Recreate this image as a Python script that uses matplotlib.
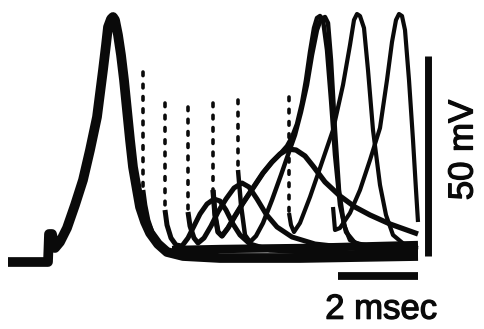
import numpy as np
import matplotlib
matplotlib.use("Agg")
import matplotlib.pyplot as plt
import matplotlib.patheffects as pe

plt.rcParams['font.family'] = ['Liberation Sans', 'DejaVu Sans']

# ---- data (time in ms, potential in mV) ----
main_t = [0.2, 1.2, 1.225, 1.3, 1.375, 1.5, 1.675, 1.875, 2.075, 2.25, 2.425, 2.575, 2.65, 2.7,
          2.775, 2.825, 2.875, 2.95, 3.025, 3.1, 3.175, 3.25, 3.325, 3.425, 3.5, 3.625, 3.75,
          3.95, 4.175, 4.575, 5.5, 7.5, 10.45]
main_v = [-0.5, -0.5, 6.5, 6.5, 3, 4.5, 8, 13.75, 20, 27.5, 35.75, 47.5, 53.75, 58.25,
          60.25, 60.75, 60, 56.25, 51.25, 45, 37.5, 30, 23.25, 17.5, 13.25, 9.5, 6.75,
          4, 2.0, 1.0, 0.5, 0.5, 1.0]

# superimposed resting sweeps forming the thick baseline band
band_t = [4.3, 5.5, 7.5, 8.5, 10.45]
band_v = [2.5, 2.75, 3.0, 3.25, 3.75]

r1_t = [3.575, 3.625, 3.7, 3.8, 3.95, 4.125, 4.375, 4.75]
r1_v = [17.5, 13.75, 10, 7, 4.5, 2.75, 1.75, 1.25]

humpA_t = [4.125, 4.175, 4.275, 4.4, 4.55, 4.7, 4.85, 5.0, 5.175, 5.35, 5.5, 5.65, 5.825,
           6.0, 6.25, 6.75, 8.0, 10.45]
humpA_v = [12.5, 8.75, 5.5, 3.75, 3.5, 5.5, 8.5, 11.5, 14, 15.25, 14.75, 12.5, 9,
           6.25, 4, 2.5, 1.75, 1.75]

humpB_t = [4.7, 4.75, 4.85, 4.95, 5.1, 5.275, 5.45, 5.65, 5.85, 6.05, 6.225, 6.425, 6.65,
           6.925, 7.3, 7.875, 9.0, 10.45]
humpB_v = [12, 8.5, 5.5, 4.25, 5.5, 8.5, 12, 15.25, 18, 19.25, 18.25, 15.25, 11.5,
           8.25, 5.75, 4, 2.75, 2.5]

humpC_t = [5.325, 5.375, 5.45, 5.55, 5.7, 5.875, 6.075, 6.325, 6.575, 6.8, 7.0, 7.2, 7.4,
           7.625, 7.825, 8.125, 8.5, 8.875, 9.25, 9.75, 10.45]
humpC_v = [17.5, 11.25, 7, 6, 8, 11, 14.25, 18, 21.75, 24.5, 26.5, 27.75, 27.5,
           26, 23.5, 19.5, 16, 13.25, 11.25, 9, 6.5]

ap1_tail_t = [7.175, 7.3, 7.425, 7.55, 7.65, 7.75, 7.85, 7.925, 8.0, 8.075, 8.175, 8.275,
              8.375, 8.5, 8.65, 8.875, 9.5, 10.45]
ap1_tail_v = [28.5, 30.75, 34, 39.25, 45, 52, 58, 60.5, 61, 60, 52.5, 40,
              26.25, 13.75, 7, 4.25, 3, 2.5]

ap2_t = [5.95, 6.025, 6.125, 6.25, 6.4, 6.575, 6.8, 7.025, 7.225, 7.375, 7.525, 7.675, 7.8,
         7.925, 8.025, 8.125, 8.2, 8.275, 8.375, 8.475, 8.6, 8.75, 9.125, 10.45]
ap2_v = [22.5, 13.75, 6.25, 4.5, 6, 9.25, 15, 21.25, 27, 31.25, 37, 43.75, 51.25,
         57.5, 60.25, 60.75, 59.25, 50, 32.5, 17.5, 8.75, 5, 3.25, 2.5]

ap3_t = [7.225, 7.275, 7.35, 7.5, 7.75, 8.0, 8.325, 8.575, 8.75, 8.85, 8.925, 9.0, 9.1,
         9.2, 9.325, 9.5, 9.65, 9.825, 10.125, 10.45]
ap3_v = [11.75, 8.75, 7, 9.25, 15.75, 23, 32.5, 43.75, 53.75, 60, 61.5, 61, 58,
         47.5, 32.5, 18.75, 11.25, 6.25, 3.75, 3]

ap4_t = [8.325, 8.375, 8.5, 8.75, 9.0, 9.25, 9.5, 9.675, 9.8, 9.9, 9.975, 10.05, 10.125,
         10.225, 10.325, 10.4, 10.45]
ap4_v = [13.25, 7.5, 8, 11.75, 17.5, 25, 33, 45, 54.5, 60, 61.5, 61, 57.5,
         45, 30, 17.5, 9.5]

# stimulus artifacts (time, top, bottom)
stim_t = [3.575, 4.125, 4.7, 5.325, 5.95, 7.225]
stim_top = [47, 39.25, 38.25, 39.25, 40, 40.75]
stim_bot = [17.5, 12.5, 12, 17.5, 22.5, 11.75]

# scale bars
time_bar_start, time_bar_len, time_bar_v = 8.45, 2.0, -4.0
volt_bar_t, volt_bar_start, volt_bar_len = 10.71, 1.0, 50.0

# ---- figure ----
fig = plt.figure(figsize=(4.85, 3.29), dpi=100)
ax = fig.add_axes([0, 0, 1, 1])
ax.set_xlim(0, 12.125)
ax.set_ylim(-17.25, 65)
ax.axis('off')

ink = '#0a0a0a'
kw = dict(color=ink, solid_joinstyle='round', solid_capstyle='butt')

ax.plot(main_t, main_v, lw=7.0, **kw)
ax.plot(band_t, band_v, lw=6.0, **kw)
ax.plot(r1_t, r1_v, lw=3.4, **kw)
ax.plot(humpA_t, humpA_v, lw=3.6, **kw)
ax.plot(humpB_t, humpB_v, lw=3.6, **kw)
ax.plot(humpC_t, humpC_v, lw=3.8, **kw)
ap1_t = list(humpC_t[:11]) + ap1_tail_t
ap1_v = list(humpC_v[:11]) + ap1_tail_v
ax.plot(ap1_t, ap1_v, lw=3.2, **kw)
ax.plot(ap2_t, ap2_v, lw=3.2, **kw)
ax.plot(ap3_t, ap3_v, lw=3.0, **kw)
ax.plot(ap4_t, ap4_v, lw=3.0, **kw)

for t, top, bot in zip(stim_t, stim_top, stim_bot):
    ax.plot([t, t], [top, bot], color=ink, lw=2.6,
            linestyle=(0, (1.0, 2.4)), dash_capstyle='round')

ax.plot([time_bar_start, time_bar_start + time_bar_len], [time_bar_v, time_bar_v],
        color=ink, lw=5.6, solid_capstyle='butt')
ax.plot([volt_bar_t, volt_bar_t], [volt_bar_start, volt_bar_start + volt_bar_len],
        color=ink, lw=5.0, solid_capstyle='butt')

heavy = [pe.withStroke(linewidth=0.9, foreground=ink)]
ax.text(9.53, -12.3, '2 msec', ha='center', va='center', fontsize=25, color=ink,
        path_effects=heavy)
ax.text(11.575, 27.5, '50 mV', ha='center', va='center', fontsize=25, color=ink,
        rotation=90, path_effects=heavy)

fig.savefig('out.png', dpi=100, facecolor='white')
